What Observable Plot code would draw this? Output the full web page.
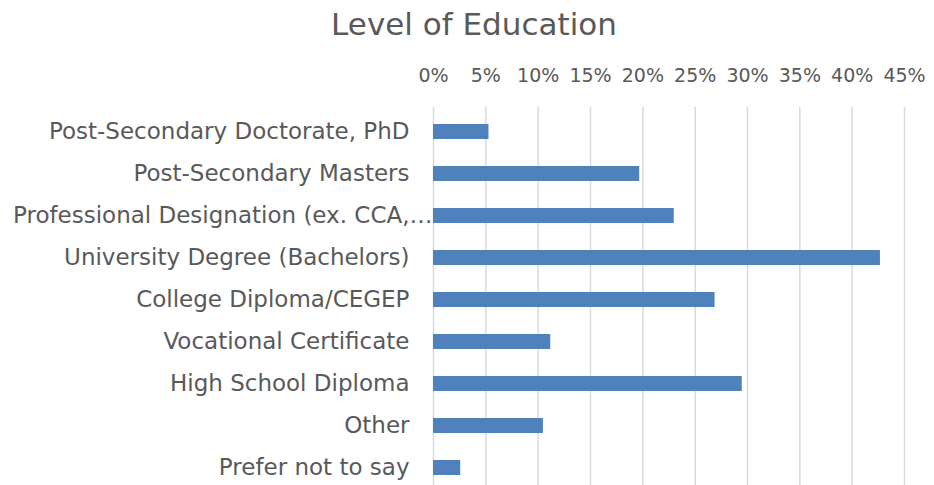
<!DOCTYPE html>
<html>
<head>
<meta charset="utf-8">
<script src="https://cdn.jsdelivr.net/npm/d3@7"></script>
<script src="https://cdn.jsdelivr.net/npm/@observablehq/plot@0.6"></script>
<style>
  html, body { margin: 0; padding: 0; background: #fff; overflow: hidden; }
  #title { height: 50px; line-height: 48px; font-family: "DejaVu Sans", sans-serif; font-size: 31px; color: #595959; text-align: center; width: 934px; padding-left: 14px; box-sizing: border-box; }
</style>
</head>
<body>
<div id="title">Level of Education</div>
<div id="chart"></div>
<script>
const categories = [
  "Post-Secondary Doctorate, PhD",
  "Post-Secondary Masters",
  "Professional Designation (ex. CCA,…",
  "University Degree (Bachelors)",
  "College Diploma/CEGEP",
  "Vocational Certificate",
  "High School Diploma",
  "Other",
  "Prefer not to say"
];
const values = [5.3, 19.7, 23.0, 42.7, 26.9, 11.2, 29.5, 10.5, 2.6];
const tickValues = [0, 5, 10, 15, 20, 25, 30, 35, 40, 45];
const tickLabels = ["0%", "5%", "10%", "15%", "20%", "25%", "30%", "35%", "40%", "45%"];

const data = categories.map((c, i) => ({category: c, value: values[i]}));
const longLabel = categories[2];
const normalLabels = categories.filter(c => c !== longLabel);

const chart = Plot.plot({
  width: 934,
  height: 441,
  marginTop: 57,
  marginBottom: 0,
  marginLeft: 433,
  marginRight: 30,
  style: {fontFamily: "DejaVu Sans, sans-serif", color: "#595959", background: "#fff"},
  x: {domain: [0, 45], axis: null},
  y: {domain: categories, paddingInner: 0.65, paddingOuter: 0.33, axis: null},
  marks: [
    Plot.ruleX(tickValues, {stroke: "#d9d9d9", strokeWidth: 1.5}),
    Plot.barX(data, {x: "value", y: "category", fill: "#4f81bd"}),
    Plot.axisX(tickValues, {
      anchor: "top", label: null, tickSize: 0, tickPadding: 26, fontSize: 19,
      tickFormat: (d) => tickLabels[tickValues.indexOf(d)], fill: "#595959"
    }),
    Plot.axisY(normalLabels, {
      anchor: "left", label: null, tickSize: 0, tickPadding: 24, fontSize: 23, fill: "#595959"
    }),
    Plot.axisY([longLabel], {
      anchor: "left", label: null, tickSize: 0, tickPadding: 1, fontSize: 23, fill: "#595959"
    })
  ]
});
document.getElementById("chart").appendChild(chart);
</script>
</body>
</html>
